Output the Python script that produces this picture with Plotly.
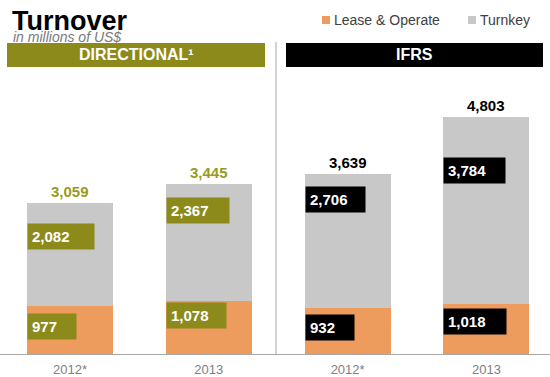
import plotly.graph_objects as go

# ---- data -------------------------------------------------------------
periods = ["2012*", "2013", "2012*", "2013"]
groups = ["DIRECTIONAL\u00b9", "IFRS"]
series_names = ["Lease & Operate", "Turnkey"]
lease_operate = [977, 1078, 932, 1018]
turnkey = [2082, 2367, 2706, 3784]
totals = [3059, 3445, 3639, 4803]

# ---- styling ----------------------------------------------------------
W, H = 550, 377
FONT = "Arial, 'Liberation Sans', sans-serif"
ORANGE = "#EE9B5E"
GREY = "#C8C8C8"
OLIVE = "#8C8A1A"
OLIVE_TXT = "#9A9A22"
BLACK = "#000000"
group_color = [OLIVE, OLIVE, BLACK, BLACK]
total_color = [OLIVE_TXT, OLIVE_TXT, BLACK, BLACK]

PLOT_TOP, PLOT_BOTTOM = 70, 354          # pixel rows of the plotting area
BAR_W = 0.62
X_LEFT, X_RIGHT = -0.5043, 3.458
Y_MAX = 5754

# label boxes: width (px) and drop below the segment top (px)
lo_box_w = [48, 59, 48, 62]
lo_box_drop = [7, 1, 6, 4]
tk_box_w = [66, 62, 59, 61]
tk_box_drop = [20, 13, 12, 40]
BOX_H = 25
PAD = 4

xs = list(range(len(periods)))


def py(p):
    """pixel row -> paper y"""
    return 1 - p / H


def px(p):
    """pixel column -> paper x"""
    return p / W


fig = go.Figure()
fig.add_trace(go.Bar(x=xs, y=lease_operate, name=series_names[0],
                     marker=dict(color=ORANGE, line=dict(width=0)),
                     width=BAR_W, showlegend=False, hoverinfo="skip"))
fig.add_trace(go.Bar(x=xs, y=turnkey, name=series_names[1],
                     marker=dict(color=GREY, line=dict(width=0)),
                     width=BAR_W, showlegend=False, hoverinfo="skip"))

annotations = []
shapes = []

# value boxes inside the segments
for i in xs:
    left = i - BAR_W / 2
    for val, top, bw, drop in (
        (lease_operate[i], lease_operate[i], lo_box_w[i], lo_box_drop[i]),
        (turnkey[i], lease_operate[i] + turnkey[i], tk_box_w[i], tk_box_drop[i]),
    ):
        annotations.append(dict(
            x=left, y=top, xref="x", yref="y", xanchor="left", yanchor="top",
            yshift=-drop, text=f"<b>{val:,}</b>", showarrow=False,
            font=dict(family=FONT, size=15, color="white"),
            bgcolor=group_color[i], borderpad=PAD, align="left",
            width=bw - 2 * PAD, height=BOX_H - 2 * PAD))
    # totals above the bars
    annotations.append(dict(
        x=i, y=totals[i], xref="x", yref="y", xanchor="center", yanchor="bottom",
        yshift=1, text=f"<b>{totals[i]:,}</b>", showarrow=False,
        font=dict(family=FONT, size=15, color=total_color[i])))

# title block
annotations.append(dict(x=px(10), y=py(38), xref="paper", yref="paper",
                        xanchor="left", yanchor="bottom", showarrow=False,
                        text="<b>Turnover</b>",
                        font=dict(family=FONT, size=27, color="#000000")))
annotations.append(dict(x=px(11), y=py(47), xref="paper", yref="paper",
                        xanchor="left", yanchor="bottom", showarrow=False,
                        text="<i>in millions of US$</i>",
                        font=dict(family=FONT, size=14, color="#7A7A7A")))

# group header bands
header_spans = [(7, 265, OLIVE), (286, 543, BLACK)]
for (x0, x1, col), label in zip(header_spans, groups):
    shapes.append(dict(type="rect", xref="paper", yref="paper",
                       x0=px(x0), x1=px(x1), y0=py(67), y1=py(43),
                       fillcolor=col, line=dict(width=0), layer="below"))
    annotations.append(dict(x=px((x0 + x1) / 2), y=py(55), xref="paper", yref="paper",
                            xanchor="center", yanchor="middle", showarrow=False,
                            text=f"<b>{label}</b>",
                            font=dict(family=FONT, size=16, color="white")))

# divider between the two groups
shapes.append(dict(type="line", xref="paper", yref="paper",
                   x0=px(276), x1=px(276), y0=py(PLOT_BOTTOM), y1=py(42),
                   line=dict(color="#B4B4B4", width=1.2)))

# legend
legend_items = [(322, series_names[0], ORANGE), (468, series_names[1], GREY)]
for x0, name, col in legend_items:
    shapes.append(dict(type="rect", xref="paper", yref="paper",
                       x0=px(x0), x1=px(x0 + 8), y0=py(24), y1=py(16),
                       fillcolor=col, line=dict(width=0)))
    annotations.append(dict(x=px(x0 + 10), y=py(20), xref="paper", yref="paper",
                            xanchor="left", yanchor="middle", showarrow=False,
                            text=name, font=dict(family=FONT, size=14, color="#404040")))

fig.update_layout(
    width=W, height=H,
    margin=dict(l=0, r=0, t=0, b=0),
    paper_bgcolor="white", plot_bgcolor="white",
    barmode="stack", bargap=0,
    annotations=annotations, shapes=shapes,
    xaxis=dict(range=[X_LEFT, X_RIGHT], tickmode="array", tickvals=xs,
               ticktext=periods, showgrid=False, zeroline=False,
               showline=True, linecolor="#A8A8A8", linewidth=1, ticks="",
               ticklabelstandoff=3,
               tickfont=dict(family=FONT, size=13, color="#808080")),
    yaxis=dict(range=[0, Y_MAX], domain=[1 - PLOT_BOTTOM / H, 1 - PLOT_TOP / H],
               visible=False, showgrid=False, zeroline=False),
    showlegend=False,
)

fig.write_html("out.html")
